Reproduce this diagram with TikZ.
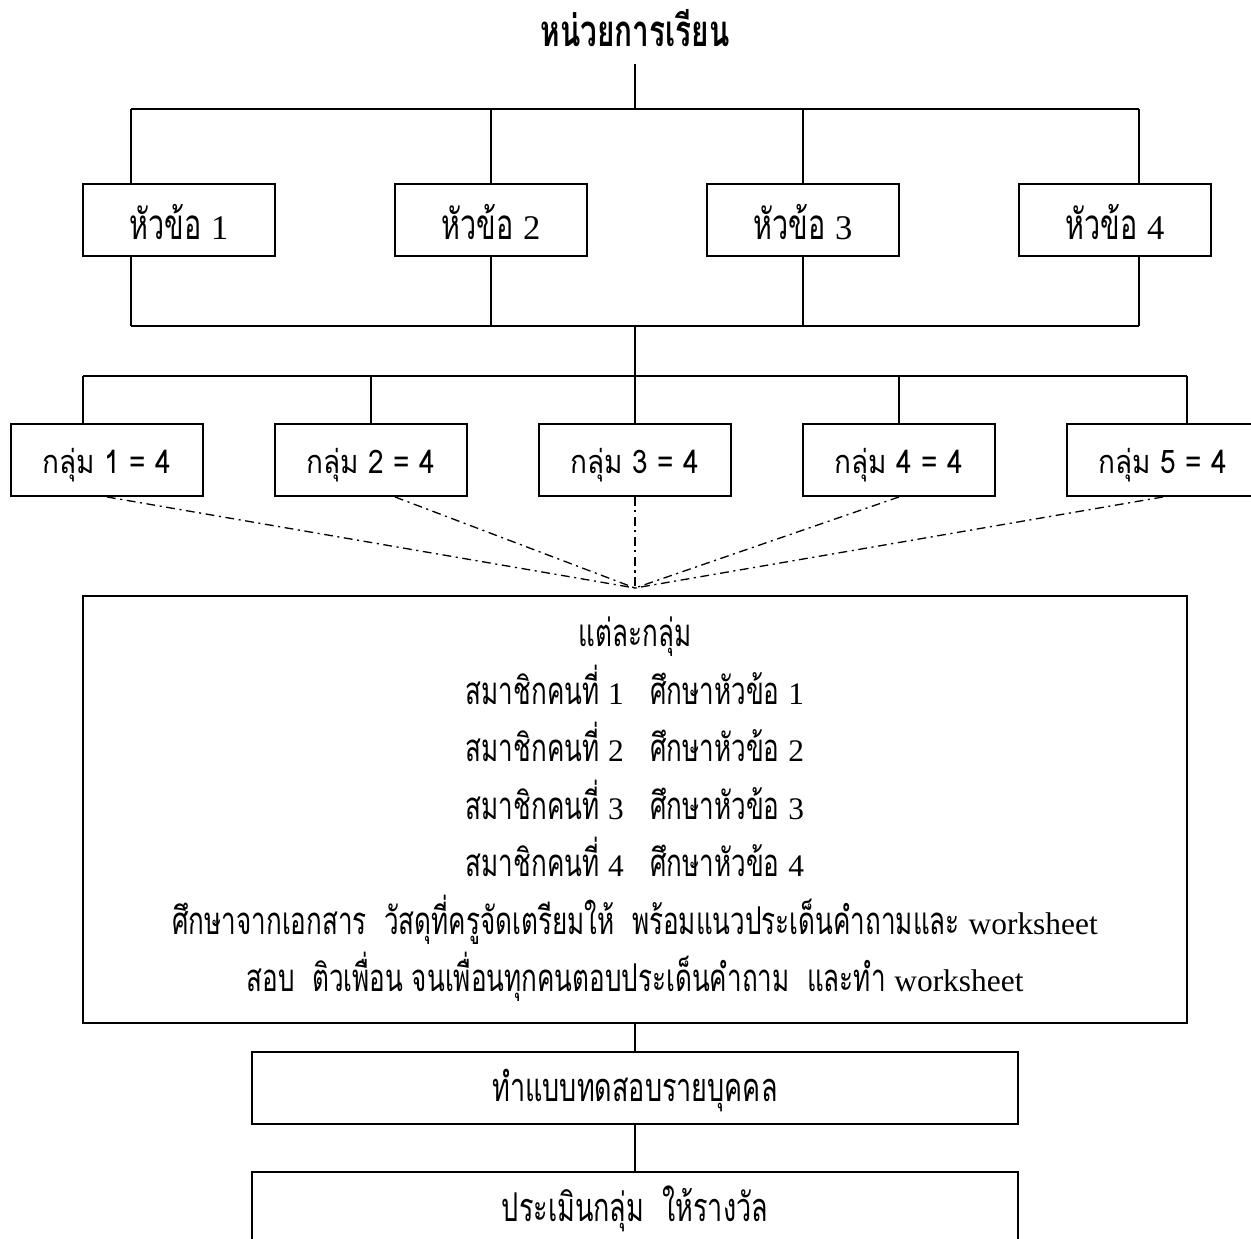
\documentclass[tikz,border=0pt]{standalone}
\usepackage{fontspec}
\setmainfont{Liberation Serif}[Scale=0.82]
\newfontfamily\thai[Script=Thai,FakeStretch=0.68]{Loma}
\newfontfamily\thaisans[Script=Thai,FakeStretch=0.86]{Loma}
\tikzset{
	box/.style={draw,line width=1.1pt,minimum width=3.84cm,minimum height=1.44cm,inner sep=0pt},
	topic/.style={box,font=\thai\fontsize{24}{28}\selectfont,text height=22pt,text depth=0pt},
	grp/.style={box,font=\thaisans\fontsize{18.5}{22}\selectfont,text height=15pt,text depth=0pt},
	wide/.style={box,minimum width=15.34cm,font=\thai\fontsize{22.6}{26}\selectfont,text height=15pt,text depth=0pt},
	link/.style={line width=0.9pt},
	dd/.style={line width=0.75pt,dash pattern=on 5pt off 2.6pt on 1.2pt off 2.6pt}
}
\begin{document}
\begin{tikzpicture}[x=0.02cm,y=-0.02cm]
			\useasboundingbox (0,0) rectangle (1251,1238);
			\node (title) at (635,64) [anchor=south,inner xsep=0pt,inner ysep=9.6pt,text depth=0pt,font=\thai\bfseries\fontsize{24.9}{28}\selectfont] {หน่วยการเรียน};
			\node (t1) at (179,220) [topic] {หัวข้อ \textrm{1}};
			\node (t2) at (491,220) [topic] {หัวข้อ \textrm{2}};
			\node (t3) at (803,220) [topic] {หัวข้อ \textrm{3}};
			\node (t4) at (1115,220) [topic] {หัวข้อ \textrm{4}};
			\node (g1) at (107,460) [grp] {กลุ่ม 1 = 4};
			\node (g2) at (371,460) [grp] {กลุ่ม 2 = 4};
			\node (g3) at (635,460) [grp] {กลุ่ม 3 = 4};
			\node (g4) at (899,460) [grp] {กลุ่ม 4 = 4};
			\node (g5) at (1163,460) [grp] {กลุ่ม 5 = 4};
			\node (mb) at (635,809.5) [box,minimum width=22.08cm,minimum height=8.54cm,align=center,font=\thai\fontsize{21.8}{32.7}\selectfont] {แต่ละกลุ่ม\\
				สมาชิกคนที่ \textrm{1}\ \ \ ศึกษาหัวข้อ \textrm{1}\\
				สมาชิกคนที่ \textrm{2}\ \ \ ศึกษาหัวข้อ \textrm{2}\\
				สมาชิกคนที่ \textrm{3}\ \ \ ศึกษาหัวข้อ \textrm{3}\\
				สมาชิกคนที่ \textrm{4}\ \ \ ศึกษาหัวข้อ \textrm{4}\\
				ศึกษาจากเอกสาร\ \ วัสดุที่ครูจัดเตรียมให้\ \ พร้อมแนวประเด็นคำถามและ \textrm{worksheet}\\
				สอบ\ \ ติวเพื่อน จนเพื่อนทุกคนตอบประเด็นคำถาม\ \ และทำ \textrm{worksheet}};
			\node (tb) at (635,1088) [wide] {ทำแบบทดสอบรายบุคคล};
			\node (ev) at (635,1208) [wide] {ประเมินกลุ่ม\ \ ให้รางวัล};
			\coordinate (top) at (635,109);
			\coordinate (mid) at (635,326);
			\coordinate (bus) at (635,376);
			\coordinate (m) at (635,588);
			\draw[link] (title.south) -- (top);
			\foreach \n/\x in {1/131,2/491,3/803,4/1139}{
				\coordinate (u\n) at (\x,109);
				\coordinate (d\n) at (\x,326);
				\draw[link] (u\n) -- (u\n |- t\n.north);
				\draw[link] (t\n.south -| d\n) -- (d\n);
			}
			\draw[link] (u1) -- (u4);
			\draw[link] (d1) -- (d4);
			\draw[link] (mid) -- (bus);
			\foreach \n/\x in {1/83,2/371,3/635,4/899,5/1187}{
				\coordinate (v\n) at (\x,376);
				\draw[link] (v\n) -- (v\n |- g\n.north);
			}
			\draw[link] (v1) -- (v5);
			\draw[dd] (g1.south) -- (m);
			\draw[dd] ([xshift=0.48cm]g2.south) -- (m);
			\draw[dd] (g3.south) -- (m);
			\draw[dd] (g4.south) -- (m);
			\draw[dd] (g5.south) -- (m);
			\draw[link] (mb.south) -- (tb.north);
			\draw[link] (tb.south) -- (ev.north);
		\end{tikzpicture}
\end{document}
